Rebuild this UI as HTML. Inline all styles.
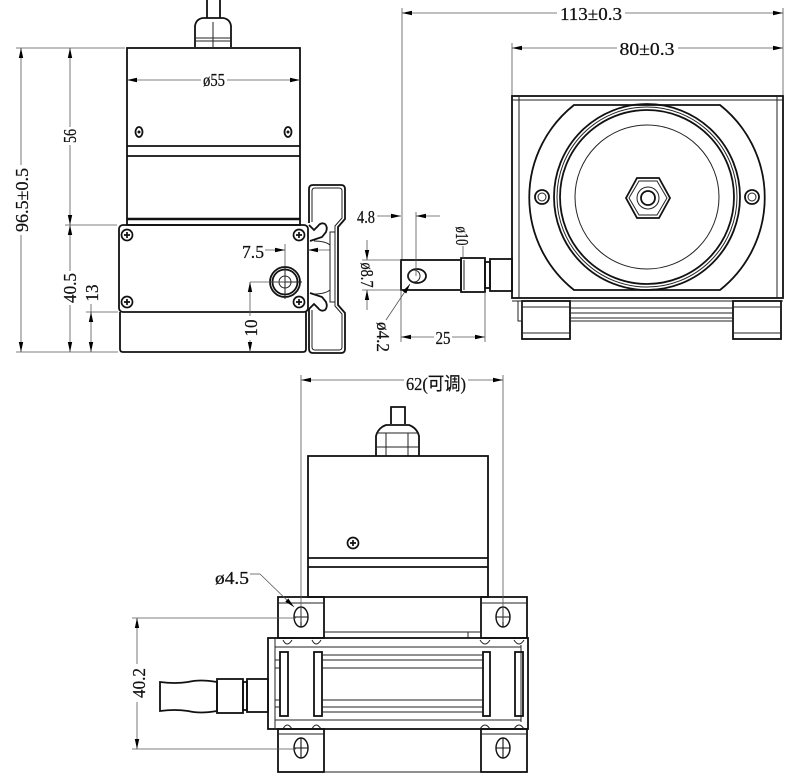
<!DOCTYPE html>
<html><head><meta charset="utf-8"><style>
html,body{margin:0;padding:0;background:#fff;}
svg{display:block;}
.o{fill:none;stroke:#111;stroke-width:1.8;}
.t{fill:none;stroke:#222;stroke-width:1;}
.d{fill:none;stroke:#555;stroke-width:0.8;}
text{font-family:"Liberation Serif","Noto Sans CJK SC",serif;fill:#111;font-size:18px;stroke:#111;stroke-width:0.25;}
</style></head><body>
<svg width="790" height="778" viewBox="0 0 790 778" xmlns="http://www.w3.org/2000/svg">
<defs>
<marker id="a" viewBox="0 0 10 6" refX="10" refY="3" markerWidth="11" markerHeight="6" markerUnits="userSpaceOnUse" orient="auto"><path d="M0,0.8 L10,3 L0,5.2z" fill="#000"/></marker>
<g id="scr"><circle r="5.5" fill="none" stroke="#111" stroke-width="1.7"/><path d="M-3,0H3M0,-3V3" stroke="#111" stroke-width="1.7"/></g>
<g id="slot"><ellipse rx="7" ry="10" fill="none" stroke="#111" stroke-width="1.4"/><path d="M-7,0H7M0,-10V10" stroke="#111" stroke-width="1.1"/></g>
</defs>

<!-- ================= TOP-LEFT VIEW ================= -->
<path class="o" d="M207,0V18M220,0V18"/>
<path class="o" d="M195,47V26Q196,19 203,18H223Q230,19 231,26V47"/>
<path class="t" d="M195,38H231M195,41H231M213,22V47"/>
<rect class="o" x="127" y="48" width="173" height="177"/>
<path class="o" d="M127,146H300M127,156H300"/>
<path d="M127,219H300" stroke="#111" stroke-width="2.5"/>
<line class="d" x1="201" y1="80" x2="127" y2="80" marker-end="url(#a)"/>
<line class="d" x1="227" y1="80" x2="300" y2="80" marker-end="url(#a)"/>
<text x="214" y="86" text-anchor="middle" font-size="17" textLength="22" lengthAdjust="spacingAndGlyphs">ø55</text>
<ellipse class="o" cx="139" cy="132" rx="3.5" ry="5"/><circle cx="139" cy="132" r="1.5" fill="#111"/>
<ellipse class="o" cx="288" cy="132" rx="3.5" ry="5"/><circle cx="288" cy="132" r="1.5" fill="#111"/>

<rect class="o" x="119" y="225" width="189" height="87" rx="4"/>
<use href="#scr" x="127" y="235"/><use href="#scr" x="299" y="235"/>
<use href="#scr" x="127" y="302"/><use href="#scr" x="299" y="302"/>
<path class="o" d="M120,312V349Q120,352 123,352H303Q306,352 306,349V312"/>
<circle class="o" cx="285" cy="282" r="15"/>
<circle class="o" cx="285" cy="282" r="12.5"/>
<circle class="t" cx="285" cy="282" r="6"/>
<path class="t" d="M269,282H302M285,266V299"/>
<!-- 7.5 -->
<text x="253" y="258" text-anchor="middle" textLength="22" lengthAdjust="spacingAndGlyphs">7.5</text>
<line class="d" x1="265" y1="250" x2="285" y2="250" marker-end="url(#a)"/>
<line class="d" x1="330" y1="250" x2="308" y2="250" marker-end="url(#a)"/>
<line class="d" x1="285" y1="244" x2="285" y2="266"/>
<!-- 10 -->
<line class="d" x1="250" y1="282" x2="285" y2="282"/>
<line class="d" x1="250" y1="316" x2="250" y2="282" marker-end="url(#a)"/>
<line class="d" x1="250" y1="340" x2="250" y2="352" marker-end="url(#a)"/>
<text transform="translate(257,328) rotate(-90)" text-anchor="middle" textLength="17" lengthAdjust="spacingAndGlyphs">10</text>
<!-- left dims -->
<path class="d" d="M16,48H125M65,225H117M86,312H118M16,352H118"/>
<line class="d" x1="21" y1="165" x2="21" y2="48" marker-end="url(#a)"/>
<line class="d" x1="21" y1="235" x2="21" y2="352" marker-end="url(#a)"/>
<text transform="translate(28,200) rotate(-90)" text-anchor="middle" textLength="64" lengthAdjust="spacingAndGlyphs">96.5±0.5</text>
<line class="d" x1="70" y1="127" x2="70" y2="48" marker-end="url(#a)"/>
<line class="d" x1="70" y1="145" x2="70" y2="225" marker-end="url(#a)"/>
<text transform="translate(76,136) rotate(-90)" text-anchor="middle" textLength="14" lengthAdjust="spacingAndGlyphs">56</text>
<line class="d" x1="70" y1="271" x2="70" y2="225" marker-end="url(#a)"/>
<line class="d" x1="70" y1="305" x2="70" y2="352" marker-end="url(#a)"/>
<text transform="translate(76,288) rotate(-90)" text-anchor="middle" textLength="30" lengthAdjust="spacingAndGlyphs">40.5</text>
<line class="d" x1="91" y1="304" x2="91" y2="312"/>
<line class="d" x1="91" y1="332" x2="91" y2="312" marker-end="url(#a)"/>
<line class="d" x1="91" y1="332" x2="91" y2="352" marker-end="url(#a)"/>
<text transform="translate(98,293) rotate(-90)" text-anchor="middle" textLength="17" lengthAdjust="spacingAndGlyphs">13</text>

<!-- DIN clip -->
<path class="o" d="M309,223V189Q309,185 313,185H341Q345,185 345,189V219L338,227V305L345,313V349Q345,353 341,353H313Q309,353 309,349V309"/>
<path class="t" d="M312,222V191Q312,188 315,188H339Q342,188 342,191V218L335,226V306L342,314V347Q342,350 339,350H315Q312,350 312,347V310"/>
<rect class="t" x="330" y="232" width="5" height="70"/>
<path class="o" d="M309,225L314,230L318,226Q321,222 325,224Q328,227 326,232L322,237Q316,239 310,241"/>
<path class="o" d="M309,309L314,304L318,308Q321,312 325,310Q328,307 326,302L322,297Q316,295 310,293"/>
<path class="t" d="M314,241Q325,241 330,245V290Q325,294 314,294"/>

<!-- ================= PIN / MIDDLE ================= -->
<line class="d" x1="402" y1="8" x2="402" y2="260"/>
<rect class="o" x="401" y="260" width="60" height="30"/>
<ellipse class="o" cx="417" cy="276" rx="9" ry="7"/>
<circle class="t" cx="414" cy="276" r="6"/>
<rect class="o" x="461" y="258" width="24" height="34"/>
<path class="t" d="M464,260V290"/>
<rect class="o" x="485" y="262" width="5" height="26"/>
<rect class="o" x="490" y="259" width="22" height="32"/>
<!-- 4.8 -->
<text x="366" y="223" text-anchor="middle" textLength="18" lengthAdjust="spacingAndGlyphs">4.8</text>
<line class="d" x1="377" y1="216" x2="401" y2="216" marker-end="url(#a)"/>
<line class="d" x1="440" y1="216" x2="416" y2="216" marker-end="url(#a)"/>
<line class="d" x1="416" y1="212" x2="416" y2="276"/>
<!-- ø8.7 -->
<path class="d" d="M362,260H401M362,290H401"/>
<line class="d" x1="367" y1="240" x2="367" y2="260" marker-end="url(#a)"/>
<line class="d" x1="367" y1="310" x2="367" y2="290" marker-end="url(#a)"/>
<text transform="translate(361,275) rotate(90)" text-anchor="middle" textLength="25" lengthAdjust="spacingAndGlyphs">ø8.7</text>
<!-- ø10 -->
<text transform="translate(456,236) rotate(90)" text-anchor="middle" font-size="17" textLength="19" lengthAdjust="spacingAndGlyphs">ø10</text>
<line class="d" x1="463" y1="246" x2="463" y2="258"/>
<!-- ø4.2 -->
<line class="d" x1="386" y1="320" x2="410" y2="284" marker-end="url(#a)"/>
<text transform="translate(377,337) rotate(90)" text-anchor="middle" textLength="30" lengthAdjust="spacingAndGlyphs">ø4.2</text>
<!-- 25 -->
<path class="d" d="M401,290V342M485,292V342"/>
<line class="d" x1="434" y1="337" x2="401" y2="337" marker-end="url(#a)"/>
<line class="d" x1="452" y1="337" x2="485" y2="337" marker-end="url(#a)"/>
<text x="443" y="344" text-anchor="middle" textLength="15" lengthAdjust="spacingAndGlyphs">25</text>

<!-- ================= RIGHT VIEW ================= -->
<line class="d" x1="557" y1="13" x2="402" y2="13" marker-end="url(#a)"/>
<line class="d" x1="625" y1="13" x2="783" y2="13" marker-end="url(#a)"/>
<text x="591" y="20" text-anchor="middle" font-size="19" textLength="62" lengthAdjust="spacingAndGlyphs">113±0.3</text>
<line class="d" x1="617" y1="48" x2="512" y2="48" marker-end="url(#a)"/>
<line class="d" x1="678" y1="48" x2="783" y2="48" marker-end="url(#a)"/>
<text x="647" y="55" text-anchor="middle" font-size="19" textLength="55" lengthAdjust="spacingAndGlyphs">80±0.3</text>
<path class="d" d="M783,8V96M512,43V96"/>
<rect class="o" x="512" y="96" width="271" height="202"/>
<path class="t" d="M519,96V298M777,96V298M512,100H783"/>
<path class="o" d="M574,105H720A118,118 0 0 1 720,290H574A118,118 0 0 1 574,105Z"/>
<circle class="o" cx="647" cy="197" r="93"/>
<circle class="t" cx="647" cy="197" r="90"/>
<circle class="o" cx="647" cy="197" r="87"/>
<circle class="t" cx="647" cy="197" r="72"/>
<polygon class="o" points="626,198 637,178 659,178 670,198 659,218 637,218"/>
<polygon class="t" points="629,198 639,181 657,181 667,198 657,215 639,215"/>
<circle class="t" cx="648" cy="198" r="11"/>
<circle class="o" cx="648" cy="198" r="7"/>
<circle class="o" cx="542" cy="197" r="7"/><circle class="t" cx="542" cy="197" r="4"/>
<circle class="o" cx="752" cy="197" r="7"/><circle class="t" cx="752" cy="197" r="4"/>
<path class="t" d="M512,301H783"/>
<rect class="o" x="522" y="301" width="48" height="38"/>
<rect class="o" x="733" y="301" width="48" height="38"/>
<path class="t" d="M522,307H570M522,333H570M733,307H781M733,333H781"/>
<path class="t" d="M570,308H733M570,313H733M570,318H733M570,321H733"/>
<rect class="t" x="518" y="301" width="4" height="20"/>

<!-- ================= BOTTOM VIEW ================= -->
<line class="d" x1="404" y1="380" x2="301" y2="380" marker-end="url(#a)"/>
<line class="d" x1="468" y1="380" x2="503" y2="380" marker-end="url(#a)"/>
<text x="436" y="390" text-anchor="middle" textLength="60" lengthAdjust="spacingAndGlyphs">62(可调)</text>
<path class="o" d="M391,424V407H405V424"/>
<path class="o" d="M376,456V436Q378,428 386,425H409Q417,428 419,436V456"/>
<path class="t" d="M376,433H419M376,447H419M386,433V456M408,433V456"/>
<rect class="o" x="308" y="456" width="180" height="141"/>
<path class="o" d="M308,558H488M308,567H488"/>
<use href="#scr" x="353" y="543"/>
<!-- top brackets -->
<rect class="o" x="278" y="597" width="46" height="41"/>
<rect class="o" x="481" y="597" width="46" height="41"/>
<path class="t" d="M278,603H324M481,603H527"/>
<use href="#slot" x="301" y="617"/><use href="#slot" x="503" y="617"/>
<path class="t" d="M324,632H468M324,638H481"/>
<rect class="t" x="468" y="632" width="13" height="6"/>
<!-- main extrusion -->
<rect class="o" x="268" y="638" width="260" height="91"/>
<path class="t" d="M275,638V729M521,645V722M275,647H521M275,720H521"/>
<rect class="o" x="280" y="652" width="8" height="64"/>
<rect class="o" x="314" y="652" width="8" height="64"/>
<rect class="o" x="483" y="652" width="7" height="64"/>
<rect class="o" x="515" y="652" width="8" height="64"/>
<path class="t" d="M283,640Q287,648 292,640M312,640Q316,648 321,640M480,640Q485,648 490,640M514,640Q519,648 524,640"/>
<path class="t" d="M283,729Q287,721 292,729M312,729Q316,721 321,729M480,729Q485,721 490,729M514,729Q519,721 524,729"/>
<path class="t" d="M322,655H483M322,660H483M322,668H483M322,700H483M322,707H483M322,712H483"/>
<path class="t" d="M275,660H280M275,668H280M275,700H280M275,707H280"/>
<!-- bottom brackets -->
<rect class="o" x="278" y="729" width="46" height="43"/>
<rect class="o" x="481" y="729" width="46" height="43"/>
<path class="t" d="M278,734H324M481,734H527M324,772H481"/>
<use href="#slot" x="301" y="748"/><use href="#slot" x="503" y="748"/>
<!-- shaft -->
<path class="o" d="M160,682Q175,684 188,682Q200,679 217,682V711Q200,714 188,711Q175,709 160,711Z"/>
<rect class="o" x="217" y="679" width="26" height="34"/>
<rect class="o" x="243" y="682" width="4" height="28"/>
<rect class="o" x="247" y="679" width="21" height="33"/>
<!-- 62 ext lines -->
<path class="d" d="M301,375V622M503,375V622"/>
<!-- 40.2 -->
<path class="d" d="M132,618H296M132,749H296"/>
<line class="d" x1="137" y1="664" x2="137" y2="618" marker-end="url(#a)"/>
<line class="d" x1="137" y1="702" x2="137" y2="749" marker-end="url(#a)"/>
<text transform="translate(145,683) rotate(-90)" text-anchor="middle" textLength="30" lengthAdjust="spacingAndGlyphs">40.2</text>
<!-- ø4.5 -->
<text x="232" y="584" text-anchor="middle" textLength="34" lengthAdjust="spacingAndGlyphs">ø4.5</text>
<path class="d" d="M250,574H260"/>
<line class="d" x1="260" y1="574" x2="294" y2="607" marker-end="url(#a)"/>
</svg>
</body></html>
